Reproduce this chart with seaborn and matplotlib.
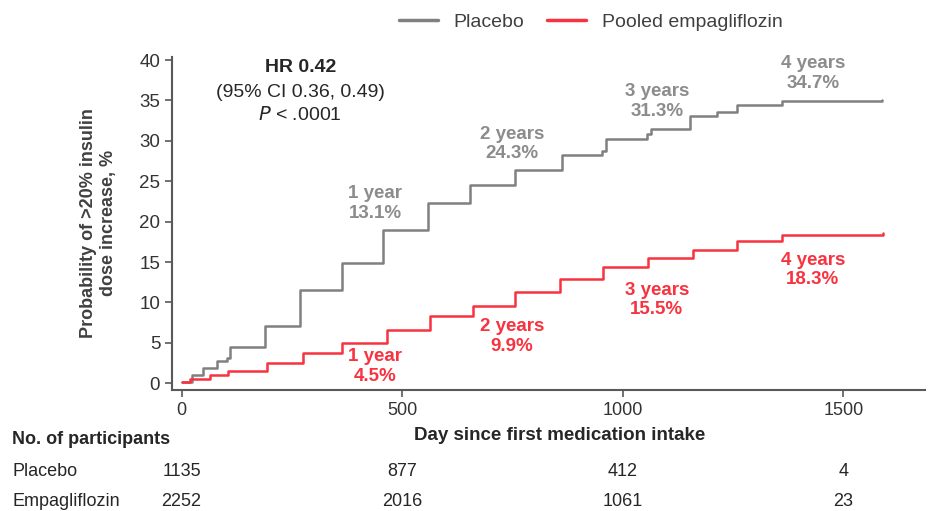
import matplotlib
matplotlib.use('Agg')
import matplotlib.pyplot as plt
import matplotlib.transforms as mtransforms
import numpy as np
import pandas as pd
import seaborn as sns

# Kaplan-Meier style cumulative incidence (%)
placebo_day = [0, 24, 49, 80, 103, 110, 189, 269, 363, 457, 559, 654, 756, 862,
               953, 962, 1055, 1065, 1153, 1213, 1259, 1361, 1587]
placebo_pct = [0.2, 1.0, 1.9, 2.7, 3.1, 4.5, 7.1, 11.6, 14.9, 19.0, 22.3, 24.5,
               26.4, 28.3, 28.7, 30.2, 30.9, 31.5, 33.1, 33.6, 34.4, 34.9, 35.0]
empa_day = [0, 19, 65, 105, 193, 275, 363, 465, 563, 661, 756, 858, 956, 1058,
            1160, 1259, 1361, 1590]
empa_pct = [0.2, 0.5, 1.0, 1.5, 2.5, 3.7, 5.0, 6.6, 8.3, 9.6, 11.3, 12.9, 14.4,
            15.5, 16.5, 17.6, 18.4, 18.6]

# yearly annotations
year_labels = ['1 year', '2 years', '3 years', '4 years']
year_day = [439, 749, 1077, 1431]
placebo_year_pct = ['13.1%', '24.3%', '31.3%', '34.7%']
placebo_label_y = [22.25, 29.6, 34.9, 38.3]
empa_year_pct = ['4.5%', '9.9%', '15.5%', '18.3%']
empa_label_y = [2.1, 5.8, 10.3, 14.0]

# numbers at risk
risk_days = [0, 500, 1000, 1500]
risk_placebo = [1135, 877, 412, 4]
risk_empa = [2252, 2016, 1061, 23]

GRAY = '#808080'
RED = '#f8333f'
DARK = '#404040'
AXIS = '#595959'

sns.set_theme(style='ticks')
plt.rcParams['font.family'] = ['Liberation Sans', 'DejaVu Sans']

fig = plt.figure(figsize=(9.39, 5.11), dpi=100)
ax = fig.add_axes([0.1832, 0.2368, 0.8019, 0.652])

df = pd.concat([
    pd.DataFrame({'day': placebo_day, 'pct': placebo_pct, 'arm': 'Placebo'}),
    pd.DataFrame({'day': empa_day, 'pct': empa_pct, 'arm': 'Pooled empagliflozin'}),
])
sns.lineplot(data=df, x='day', y='pct', hue='arm',
             palette={'Placebo': GRAY, 'Pooled empagliflozin': RED},
             drawstyle='steps-post', linewidth=1.8, ax=ax, legend=False)

ax.set_xlim(-21.5, 1685)
ax.set_ylim(-0.83, 40.4)
ax.set_xticks(risk_days)
ax.set_yticks(np.arange(0, 41, 5))
sns.despine(ax=ax)
for side in ('left', 'bottom'):
    ax.spines[side].set_color(AXIS)
    ax.spines[side].set_linewidth(1.5)
ax.tick_params(colors=AXIS, labelcolor='#333333', labelsize=13, length=5, width=1.2)
ax.tick_params(axis='y', labelsize=13.5)
ax.set_xlabel('')
ax.set_ylabel('Probability of >20% insulin\ndose increase, %', fontsize=13,
              fontweight='bold', color=DARK, labelpad=16, linespacing=1.2)

for lab, d, p, yy in zip(year_labels, year_day, placebo_year_pct, placebo_label_y):
    ax.text(d, yy, f'{lab}\n{p}', color='#8c8c8c', fontsize=13.5, fontweight='bold',
            ha='center', va='center', linespacing=1.2)
for lab, d, p, yy in zip(year_labels, year_day, empa_year_pct, empa_label_y):
    ax.text(d, yy, f'{lab}\n{p}', color=RED, fontsize=13.5, fontweight='bold',
            ha='center', va='center', linespacing=1.2)

ax.text(269, 39.1, 'HR 0.42', fontsize=14, fontweight='bold', color='#262626',
        ha='center', va='center')
ax.text(269, 36.0, '(95% CI 0.36, 0.49)', fontsize=14, color='#262626',
        ha='center', va='center')
ax.text(269, 33.2, r'$P$ < .0001', fontsize=14, color='#262626',
        ha='center', va='center')

# legend
handles = [plt.Line2D([], [], color=GRAY, lw=2.5), plt.Line2D([], [], color=RED, lw=2.5)]
fig.legend(handles, ['Placebo', 'Pooled empagliflozin'], loc='center',
           bbox_to_anchor=(0.629, 0.957), ncol=2, frameon=False, fontsize=14,
           handlelength=2.0, columnspacing=1.2, labelcolor=DARK)

# x label and numbers at risk
fig.text(560 / 939, 1 - 436 / 511, 'Day since first medication intake', fontsize=13.5,
         fontweight='bold', color='#262626', ha='center', va='center')
fig.text(12 / 939, 1 - 440 / 511, 'No. of participants', fontsize=13,
         fontweight='bold', color='#262626', ha='left', va='center')
fig.text(12 / 939, 1 - 471 / 511, 'Placebo', fontsize=13, color='#262626',
         ha='left', va='center')
fig.text(12 / 939, 1 - 502 / 511, 'Empagliflozin', fontsize=13, color='#262626',
         ha='left', va='center')
trans = mtransforms.blended_transform_factory(ax.transData, fig.transFigure)
for d, a, b in zip(risk_days, risk_placebo, risk_empa):
    ax.text(d, 1 - 471 / 511, str(a), transform=trans, fontsize=13, color='#262626',
            ha='center', va='center')
    ax.text(d, 1 - 502 / 511, str(b), transform=trans, fontsize=13, color='#262626',
            ha='center', va='center')

fig.savefig('out.png', dpi=100)
